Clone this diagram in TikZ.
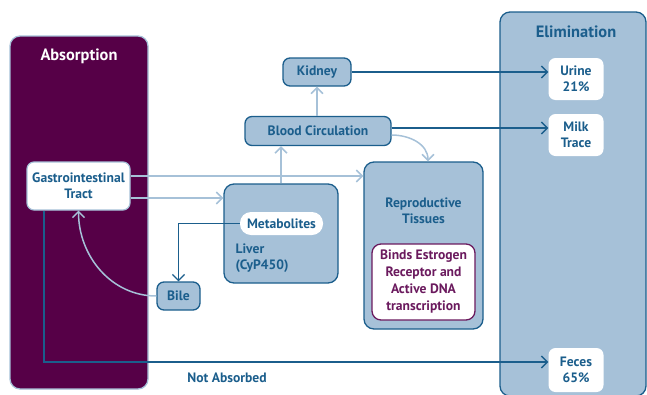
\documentclass[tikz,border=0pt]{standalone}
\usepackage{fontspec}
\setmainfont{PT Sans}
\usetikzlibrary{arrows.meta}
\definecolor{purp}{HTML}{560047}
\definecolor{lb}{HTML}{A6C1D8}
\definecolor{db}{HTML}{1B5E8C}
\definecolor{ptxt}{HTML}{6B1A5E}
\tikzset{
  txt/.style={font=\bfseries\fontsize{13.6}{16.3}\selectfont, text=db},
  ttl/.style={font=\bfseries\fontsize{16.4}{19}\selectfont},
  panel/.style={rounded corners=10pt, line width=1.3pt, inner sep=0pt},
  bluebox/.style={txt, draw=db, fill=lb, line width=1.3pt, rounded corners=7pt, inner sep=0pt, align=center},
  wbox/.style={txt, fill=white, rounded corners=7pt, inner sep=0pt, align=center},
  lbline/.style={draw=lb, line width=1.5pt, -{Straight Barb[length=6pt,width=12pt]}},
  dbline/.style={draw=db, line width=1.3pt, -{Straight Barb[length=6pt,width=12pt]}}
}
\begin{document}
\begin{tikzpicture}[x=1pt,y=-1pt]
\useasboundingbox (0,0) rectangle (647,394);
% panels
\node[panel, draw=lb, fill=purp, minimum width=138pt, minimum height=353pt] (abs) at (79,212.5) {};
\node[txt, ttl, text=white] (absT) at (79,56) {Absorption};
\node[panel, draw=db, fill=lb, minimum width=146pt, minimum height=384pt] (elim) at (573,204) {};
\node[txt, ttl] (elimT) at (576,32) {Elimination};
% elimination nodes
\node[wbox, minimum width=55pt, minimum height=42pt] (urine) at (576,79) {Urine\\21\%};
\node[wbox, minimum width=55pt, minimum height=42pt] (milk) at (576,135) {Milk\\Trace};
\node[wbox, minimum width=55pt, minimum height=44pt] (feces) at (576,370) {Feces\\65\%};
% middle nodes
\node[bluebox, minimum width=68pt, minimum height=28pt] (kidney) at (317,72) {Kidney};
\node[bluebox, minimum width=146pt, minimum height=29pt] (blood) at (318,131) {Blood Circulation};
\node[wbox, draw=lb, line width=1.2pt, minimum width=103pt, minimum height=48pt] (gi) at (78.5,186) {Gastrointestinal\\Tract};
\node[bluebox, rounded corners=10pt, minimum width=114pt, minimum height=99pt] (liver) at (281,233.5) {};
\node[txt, align=left, anchor=west] (livl) at (232,258) {Liver\\(CyP450)};
\node[wbox, rounded corners=11pt, minimum width=83pt, minimum height=23pt] (metab) at (281.5,223.5) {Metabolites};
\node[bluebox, minimum width=43pt, minimum height=28pt] (bile) at (178.5,296) {Bile};
\node[bluebox, rounded corners=10pt, minimum width=119pt, minimum height=167pt] (repro) at (423.5,245.5) {};
\node[txt, align=center] (reprol) at (423.5,211) {Reproductive\\Tissues};
\node[wbox, draw=ptxt, text=ptxt, line width=1.3pt, rounded corners=9pt, minimum width=103pt, minimum height=76pt, font=\bfseries\fontsize{13.6}{17}\selectfont] (binds) at (423.5,282) {Binds Estrogen\\Receptor and\\Active DNA\\transcription};
\node[txt] (na) at (227,378) {Not Absorbed};
% connectors
\draw[lbline] ([yshift=10pt]gi.east) -- ([yshift=10pt]gi.east -| repro.west);
\draw[lbline] ([yshift=-12pt]gi.east) -- ([yshift=-12pt]gi.east -| liver.west);
\draw[lbline] (liver.north) -- (liver.north |- blood.south);
\draw[lbline] (blood.north -| kidney.south) -- (kidney.south);
\draw[lbline] ([yshift=-4pt]blood.east) to[out=0,in=90] ([xshift=4.5pt]repro.north);
\draw[lbline] (bile.west) to[out=180,in=-90] (gi.south);
\draw[dbline] (kidney.east) -- (kidney.east -| urine.west);
\draw[dbline] ([yshift=3pt]blood.east) -- ([yshift=3pt]blood.east -| milk.west);
\draw[dbline] (metab.west) -| (bile.north);
\draw[dbline] ([xshift=-34.5pt]gi.south) |- ([yshift=8pt]feces.west);
\end{tikzpicture}
\end{document}
